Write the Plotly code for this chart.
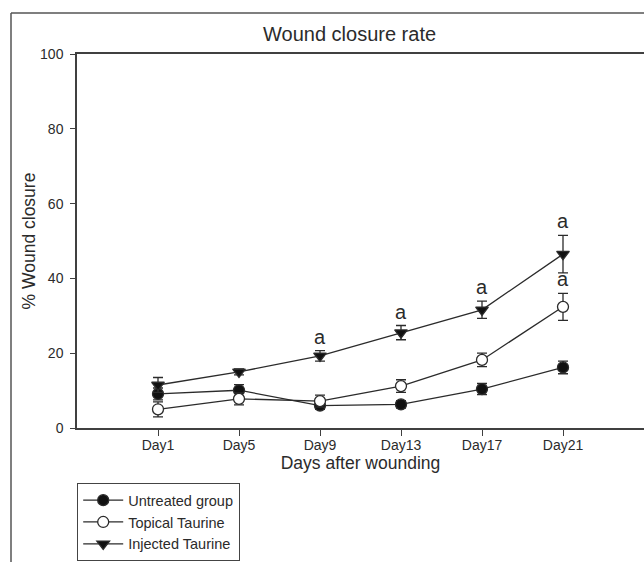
import plotly.graph_objects as go

days = ["Day1", "Day5", "Day9", "Day13", "Day17", "Day21"]
untreated = [9.1, 10.1, 6.0, 6.3, 10.4, 16.2]
untreated_err = [1.6, 1.5, 1.0, 1.0, 1.5, 1.7]
topical = [5.0, 7.8, 7.2, 11.2, 18.2, 32.4]
topical_err = [2.0, 1.6, 1.6, 1.7, 1.8, 3.6]
injected = [11.5, 15.0, 19.3, 25.5, 31.6, 46.5]
injected_err = [2.0, 0.8, 1.4, 1.9, 2.3, 5.0]
sig_topical = ["", "", "", "", "", "a"]
sig_injected = ["", "", "a", "a", "a", "a"]

FONT = "Liberation Sans, Arial, sans-serif"
INK = "#2b2b2b"

fig = go.Figure()

def add(name, y, err, symbol, fill):
    fig.add_trace(go.Scatter(
        x=days, y=y, name=name, mode="lines+markers",
        line=dict(color=INK, width=1.3),
        marker=dict(symbol=symbol, size=11, color=fill, line=dict(color=INK, width=1.3)),
        error_y=dict(type="data", array=err, visible=True, color=INK, thickness=1.3, width=5),
    ))

add("Untreated group", untreated, untreated_err, "circle", "#111111")
add("Topical Taurine", topical, topical_err, "circle", "white")
add("Injected Taurine", injected, injected_err, "triangle-down", "#111111")

def px_to_paper_x(px):
    return (px - 77) / 567

def py_to_paper_y(py):
    return (428 - py) / 374

annotations = []
for vals, errs, sig in [(topical, topical_err, sig_topical), (injected, injected_err, sig_injected)]:
    for d, v, e, s in zip(days, vals, errs, sig):
        if s:
            annotations.append(dict(x=d, y=v + e, text=s, showarrow=False, xref="x", yref="y",
                                    yanchor="bottom", yshift=1,
                                    font=dict(family=FONT, size=20, color=INK)))

annotations.append(dict(text="Wound closure rate", x=px_to_paper_x(349), y=py_to_paper_y(34),
                        xref="paper", yref="paper",
                        xanchor="center", yanchor="middle", showarrow=False,
                        font=dict(family=FONT, size=20, color=INK)))

shapes = [
    dict(type="line", xref="paper", yref="paper", x0=px_to_paper_x(11), x1=px_to_paper_x(700),
         y0=py_to_paper_y(13), y1=py_to_paper_y(13), line=dict(color="#555555", width=1.5)),
    dict(type="line", xref="paper", yref="paper", x0=px_to_paper_x(11), x1=px_to_paper_x(11),
         y0=py_to_paper_y(13), y1=py_to_paper_y(600), line=dict(color="#555555", width=1.5)),
]

fig.update_layout(
    width=644, height=562,
    margin=dict(l=77, r=0, t=54, b=134),
    paper_bgcolor="white", plot_bgcolor="white",
    font=dict(family=FONT, color=INK, size=14),
    showlegend=True,
    legend=dict(x=0, y=py_to_paper_y(483), xanchor="left", yanchor="top",
                bordercolor="#444444", borderwidth=1.2, bgcolor="white", itemwidth=40,
                font=dict(family=FONT, size=14.5, color=INK), tracegroupgap=0),
    annotations=annotations,
    shapes=shapes,
    xaxis=dict(type="category", range=[-1, 6], showline=True, linecolor="#404040", linewidth=1.5,
               mirror=True, ticks="outside", ticklen=6, tickcolor="#404040", showgrid=False, zeroline=False,
               ticklabelstandoff=-3,
               tickfont=dict(family=FONT, size=14, color=INK),
               title=dict(text="Days after wounding", standoff=5, font=dict(family=FONT, size=17.5, color=INK))),
    yaxis=dict(range=[0, 100], dtick=20, showline=True, linecolor="#404040", linewidth=1.5,
               mirror=False, ticks="outside", ticklen=5, tickcolor="#404040", showgrid=False, zeroline=False,
               ticklabelstandoff=4,
               tickfont=dict(family=FONT, size=14, color=INK),
               title=dict(text="% Wound closure", standoff=0, font=dict(family=FONT, size=17.5, color=INK))),
)

fig.write_html("out.html", config={"displayModeBar": False},
               post_script="document.body.style.margin='0px';")
